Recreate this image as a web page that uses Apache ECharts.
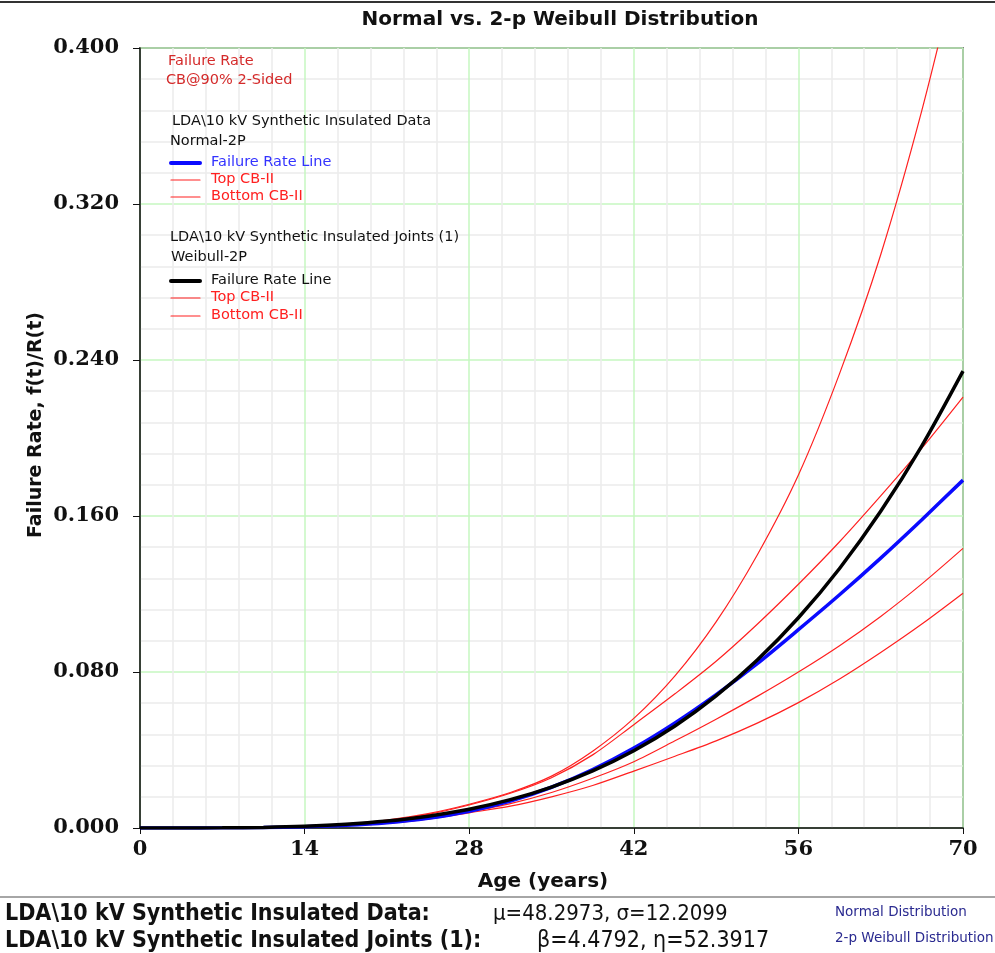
<!DOCTYPE html>
<html><head><meta charset="utf-8">
<script src="https://cdn.jsdelivr.net/npm/echarts@6/dist/echarts.min.js"></script>
<style>html,body{margin:0;padding:0;background:#fff}#c{width:995px;height:953px}</style>
</head><body><div id="c"></div>
<script>
// Age (years)
const ages = [0, 3.5, 7, 10.5, 14, 17.5, 21, 24.5, 28, 31.5, 35, 38.5, 42, 45.5, 49, 52.5, 56, 59.5, 63, 66.5, 70];
// Normal-2P failure rate and confidence bounds
const normalRate   = [0.00001, 0.00004, 0.0001, 0.00027, 0.00063, 0.00137, 0.0027, 0.0050, 0.0086, 0.01385, 0.0209, 0.0300, 0.0410, 0.0539, 0.0684, 0.0843, 0.1017, 0.1196, 0.1384, 0.1581, 0.1784];
const normalTop    = [0, 0.00001, 0.0001, 0.0004, 0.0009, 0.0019, 0.0038, 0.0070, 0.0118, 0.0178, 0.0258, 0.0375, 0.053, 0.0688, 0.0855, 0.1045, 0.125, 0.1468, 0.1703, 0.1948, 0.221];
const normalBottom = [0, 0.00001, 0.00008, 0.0002, 0.0005, 0.0012, 0.0025, 0.0047, 0.0083, 0.0125, 0.0182, 0.0255, 0.034, 0.0447, 0.0558, 0.0675, 0.080, 0.0935, 0.1085, 0.1252, 0.1434];
// Weibull-2P failure rate and confidence bounds
const weibullRate   = [0, 0.000007, 0.00008, 0.00032, 0.00087, 0.00188, 0.00355, 0.00607, 0.00966, 0.01456, 0.0210, 0.02926, 0.0396, 0.0523, 0.0677, 0.0861, 0.1078, 0.1331, 0.1624, 0.1960, 0.2343];
const weibullTop    = [0, 0.00001, 0.0001, 0.0004, 0.0010, 0.0021, 0.0041, 0.0074, 0.0122, 0.0182, 0.0266, 0.0394, 0.0562, 0.078, 0.1057, 0.140, 0.181, 0.233, 0.294, 0.368, 0.454];
const weibullBottom = [0, 0.00001, 0.00006, 0.0002, 0.0005, 0.0012, 0.0024, 0.0045, 0.0078, 0.0112, 0.0160, 0.0218, 0.0292, 0.0368, 0.0447, 0.0538, 0.0643, 0.0764, 0.090, 0.1046, 0.1204];
// Axis ticks
const xTicks = [0, 14, 28, 42, 56, 70];
const yTicks = [0, 0.08, 0.16, 0.24, 0.32, 0.4];

const pair = arr => ages.map((a, i) => [a, arr[i]]);
const chart = echarts.init(document.getElementById('c'), null, {renderer: 'canvas'});
const tickFont = {fontFamily: 'DejaVu Serif', fontWeight: 'bold', fontSize: 21, color: '#111'};
const redLine = (name, arr) => ({name, type: 'line', data: pair(arr), smooth: 0.3, symbol: 'none',
  lineStyle: {color: '#ff2020', width: 1.2}, z: 3});

const G = {left: 140, top: 48, w: 823, h: 780};
const LF = '14.5px "DejaVu Sans"';
const legendText = (x, y, text, color) => ({type: 'text', left: x, top: y, z: 100,
  style: {text, fill: color, font: LF}});
const legendLine = (x, y, color, w) => ({type: 'line', z: 100,
  shape: {x1: x, y1: y, x2: x + 29, y2: y}, style: {stroke: color, lineWidth: w, lineCap: 'round'}});

chart.setOption({
  animation: false,
  backgroundColor: '#fff',
  title: {text: 'Normal vs. 2-p Weibull Distribution', left: 555, top: 5, textAlign: 'center',
    textStyle: {fontFamily: 'DejaVu Sans', fontWeight: 'bold', fontSize: 20, color: '#111'}},
  grid: {left: G.left, top: G.top, width: G.w, height: G.h, show: true, borderColor: '#222', borderWidth: 1.5, backgroundColor: 'transparent'},
  xAxis: {type: 'value', min: 0, max: 70, interval: 14,
    axisLine: {lineStyle: {color: '#111', width: 1.5}},
    axisTick: {show: true, length: 6, lineStyle: {color: '#111'}},
    axisLabel: Object.assign({margin: 11, formatter: v => xTicks.includes(v) ? String(v) : ''}, tickFont),
    splitLine: {show: true, lineStyle: {color: '#c6f7c0', width: 1.5}},
    minorTick: {show: false, splitNumber: 5},
    minorSplitLine: {show: true, lineStyle: {color: '#ececec', width: 1.5}}},
  yAxis: {type: 'value', min: 0, max: 0.4, interval: 0.08,
    axisLine: {show: true, lineStyle: {color: '#111', width: 1.5}},
    axisTick: {show: true, length: 7, lineStyle: {color: '#111'}},
    axisLabel: Object.assign({margin: 21, formatter: v => yTicks.some(t => Math.abs(t - v) < 1e-9) ? v.toFixed(3) : ''}, tickFont),
    splitLine: {show: true, lineStyle: {color: '#c6f7c0', width: 1.5}},
    minorTick: {show: false, splitNumber: 5},
    minorSplitLine: {show: true, lineStyle: {color: '#ececec', width: 1.5}}},
  series: [
    redLine('Normal Top CB-II', normalTop),
    redLine('Normal Bottom CB-II', normalBottom),
    redLine('Weibull Top CB-II', weibullTop),
    redLine('Weibull Bottom CB-II', weibullBottom),
    {name: 'Normal Failure Rate Line', type: 'line', data: pair(normalRate), smooth: 0.3, symbol: 'none',
      lineStyle: {color: '#0a0aff', width: 3.5}, z: 4},
    {name: 'Weibull Failure Rate Line', type: 'line', data: pair(weibullRate), smooth: 0.3, symbol: 'none',
      lineStyle: {color: '#000', width: 3.5}, z: 5}
  ],
  graphic: [
    {type: 'line', shape: {x1: 0, y1: 2, x2: 995, y2: 2}, style: {stroke: '#333', lineWidth: 2}},
    {type: 'line', shape: {x1: 0, y1: 897, x2: 995, y2: 897}, style: {stroke: '#888', lineWidth: 1.5}},
    {type: 'text', x: 543, y: 882, style: {text: 'Age (years)', fill: '#111', font: 'bold 20px "DejaVu Sans"', textAlign: 'center', textVerticalAlign: 'middle'}},
    {type: 'text', x: 36, y: 425, rotation: Math.PI / 2, style: {text: 'Failure Rate, f(t)/R(t)', fill: '#111', font: 'bold 19px "DejaVu Sans"', textAlign: 'center', textVerticalAlign: 'middle'}},
    legendText(168, 54, 'Failure Rate', '#d42a2a'),
    legendText(166, 73, 'CB@90% 2-Sided', '#d42a2a'),
    legendText(172, 114, 'LDA\\10 kV Synthetic Insulated Data', '#111'),
    legendText(170, 134, 'Normal-2P', '#111'),
    legendLine(171, 163, '#0a0aff', 4),
    legendText(211, 155, 'Failure Rate Line', '#3333ff'),
    legendLine(171, 180, '#ff2020', 1.2),
    legendText(211, 172, 'Top CB-II', '#ff2020'),
    legendLine(171, 197, '#ff2020', 1.2),
    legendText(211, 189, 'Bottom CB-II', '#ff2020'),
    legendText(170, 230, 'LDA\\10 kV Synthetic Insulated Joints (1)', '#111'),
    legendText(171, 250, 'Weibull-2P', '#111'),
    legendLine(171, 281, '#000', 4),
    legendText(211, 273, 'Failure Rate Line', '#111'),
    legendLine(171, 298, '#ff2020', 1.2),
    legendText(211, 290, 'Top CB-II', '#ff2020'),
    legendLine(171, 316, '#ff2020', 1.2),
    legendText(211, 308, 'Bottom CB-II', '#ff2020'),
    {type: 'text', x: 5, y: 914, style: {text: 'LDA\\10 kV Synthetic Insulated Data:', fill: '#111', font: 'bold 23px "DejaVu Sans Condensed", "DejaVu Sans"', textVerticalAlign: 'middle'}},
    {type: 'text', x: 493, y: 914, style: {text: 'μ=48.2973, σ=12.2099', fill: '#111', font: '22px "DejaVu Sans Condensed", "DejaVu Sans"', textVerticalAlign: 'middle'}},
    {type: 'text', x: 835, y: 912, style: {text: 'Normal Distribution', fill: '#2a2a90', font: '13.5px "DejaVu Sans"', textVerticalAlign: 'middle'}},
    {type: 'text', x: 5, y: 941, style: {text: 'LDA\\10 kV Synthetic Insulated Joints (1):', fill: '#111', font: 'bold 23px "DejaVu Sans Condensed", "DejaVu Sans"', textVerticalAlign: 'middle'}},
    {type: 'text', x: 537, y: 941, style: {text: 'β=4.4792, η=52.3917', fill: '#111', font: '23px "DejaVu Sans Condensed", "DejaVu Sans"', textVerticalAlign: 'middle'}},
    {type: 'text', x: 835, y: 938, style: {text: '2-p Weibull Distribution', fill: '#2a2a90', font: '13.5px "DejaVu Sans"', textVerticalAlign: 'middle'}}
  ]
});
</script></body></html>
